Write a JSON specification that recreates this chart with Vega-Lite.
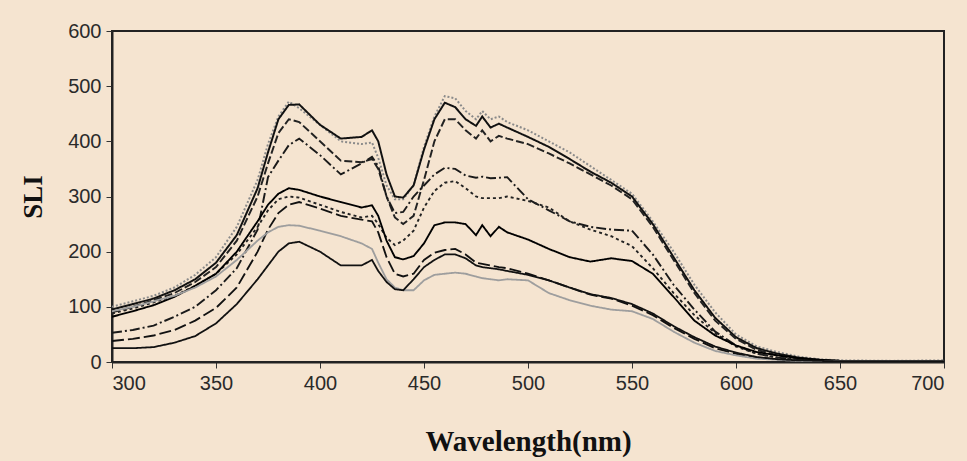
{
  "$schema": "https://vega.github.io/schema/vega-lite/v6.json",
  "width": 832,
  "height": 331,
  "autosize": {"type": "none"},
  "padding": {"left": 112, "top": 31, "right": 23, "bottom": 99},
  "background": "#f5e4d0",
  "config": {
    "view": {"stroke": "#222", "strokeWidth": 2},
    "axis": {
      "labelFont": "Liberation Sans", "labelFontSize": 20, "labelColor": "#2a2a2a",
      "tickColor": "#333", "tickSize": 6, "labelPadding": 5, "grid": false,
      "domainColor": "#222", "domainWidth": 2,
      "titleFont": "Liberation Serif", "titleFontWeight": "bold", "titleColor": "#111"
    }
  },
  "data": {"values": [
{"s":"A","w":300,"v":100},{"s":"A","w":310,"v":110},{"s":"A","w":320,"v":120},{"s":"A","w":330,"v":135},{"s":"A","w":340,"v":158},{"s":"A","w":350,"v":190},{"s":"A","w":360,"v":245},{"s":"A","w":370,"v":330},{"s":"A","w":375,"v":395},{"s":"A","w":380,"v":445},{"s":"A","w":385,"v":472},{"s":"A","w":390,"v":460},{"s":"A","w":400,"v":430},{"s":"A","w":410,"v":400},{"s":"A","w":420,"v":395},{"s":"A","w":425,"v":398},{"s":"A","w":428,"v":370},{"s":"A","w":432,"v":320},{"s":"A","w":436,"v":295},{"s":"A","w":440,"v":295},{"s":"A","w":445,"v":320},{"s":"A","w":450,"v":390},{"s":"A","w":455,"v":445},{"s":"A","w":460,"v":482},{"s":"A","w":465,"v":478},{"s":"A","w":470,"v":455},{"s":"A","w":475,"v":440},{"s":"A","w":478,"v":455},{"s":"A","w":482,"v":440},{"s":"A","w":486,"v":445},{"s":"A","w":490,"v":435},{"s":"A","w":500,"v":420},{"s":"A","w":510,"v":400},{"s":"A","w":520,"v":380},{"s":"A","w":530,"v":355},{"s":"A","w":540,"v":330},{"s":"A","w":550,"v":305},{"s":"A","w":560,"v":255},{"s":"A","w":570,"v":200},{"s":"A","w":580,"v":140},{"s":"A","w":590,"v":90},{"s":"A","w":600,"v":50},{"s":"A","w":610,"v":28},{"s":"A","w":620,"v":18},{"s":"A","w":630,"v":10},{"s":"A","w":640,"v":5},{"s":"A","w":650,"v":3},{"s":"A","w":675,"v":2},{"s":"A","w":700,"v":3},
{"s":"B","w":300,"v":95},{"s":"B","w":310,"v":105},{"s":"B","w":320,"v":115},{"s":"B","w":330,"v":130},{"s":"B","w":340,"v":150},{"s":"B","w":350,"v":180},{"s":"B","w":360,"v":230},{"s":"B","w":370,"v":315},{"s":"B","w":375,"v":380},{"s":"B","w":380,"v":440},{"s":"B","w":385,"v":466},{"s":"B","w":390,"v":467},{"s":"B","w":400,"v":430},{"s":"B","w":410,"v":405},{"s":"B","w":420,"v":408},{"s":"B","w":425,"v":420},{"s":"B","w":428,"v":400},{"s":"B","w":432,"v":340},{"s":"B","w":436,"v":300},{"s":"B","w":440,"v":298},{"s":"B","w":445,"v":320},{"s":"B","w":450,"v":385},{"s":"B","w":455,"v":440},{"s":"B","w":460,"v":470},{"s":"B","w":465,"v":462},{"s":"B","w":470,"v":440},{"s":"B","w":475,"v":428},{"s":"B","w":478,"v":445},{"s":"B","w":482,"v":425},{"s":"B","w":486,"v":432},{"s":"B","w":490,"v":425},{"s":"B","w":500,"v":408},{"s":"B","w":510,"v":390},{"s":"B","w":520,"v":368},{"s":"B","w":530,"v":345},{"s":"B","w":540,"v":325},{"s":"B","w":550,"v":300},{"s":"B","w":560,"v":250},{"s":"B","w":570,"v":190},{"s":"B","w":580,"v":130},{"s":"B","w":590,"v":80},{"s":"B","w":600,"v":45},{"s":"B","w":610,"v":25},{"s":"B","w":620,"v":15},{"s":"B","w":630,"v":8},{"s":"B","w":640,"v":4},{"s":"B","w":650,"v":2},{"s":"B","w":675,"v":1},{"s":"B","w":700,"v":2},
{"s":"C","w":300,"v":90},{"s":"C","w":310,"v":100},{"s":"C","w":320,"v":112},{"s":"C","w":330,"v":125},{"s":"C","w":340,"v":145},{"s":"C","w":350,"v":172},{"s":"C","w":360,"v":220},{"s":"C","w":370,"v":300},{"s":"C","w":375,"v":360},{"s":"C","w":380,"v":415},{"s":"C","w":385,"v":440},{"s":"C","w":390,"v":435},{"s":"C","w":400,"v":400},{"s":"C","w":410,"v":365},{"s":"C","w":420,"v":362},{"s":"C","w":425,"v":368},{"s":"C","w":428,"v":350},{"s":"C","w":432,"v":300},{"s":"C","w":436,"v":262},{"s":"C","w":440,"v":250},{"s":"C","w":445,"v":265},{"s":"C","w":450,"v":330},{"s":"C","w":455,"v":400},{"s":"C","w":460,"v":440},{"s":"C","w":465,"v":440},{"s":"C","w":470,"v":420},{"s":"C","w":475,"v":405},{"s":"C","w":478,"v":420},{"s":"C","w":482,"v":400},{"s":"C","w":486,"v":410},{"s":"C","w":490,"v":405},{"s":"C","w":500,"v":395},{"s":"C","w":510,"v":378},{"s":"C","w":520,"v":360},{"s":"C","w":530,"v":340},{"s":"C","w":540,"v":320},{"s":"C","w":550,"v":295},{"s":"C","w":560,"v":245},{"s":"C","w":570,"v":185},{"s":"C","w":580,"v":125},{"s":"C","w":590,"v":75},{"s":"C","w":600,"v":42},{"s":"C","w":610,"v":22},{"s":"C","w":620,"v":12},{"s":"C","w":630,"v":6},{"s":"C","w":640,"v":3},{"s":"C","w":650,"v":2},{"s":"C","w":675,"v":1},{"s":"C","w":700,"v":2},
{"s":"D","w":300,"v":53},{"s":"D","w":310,"v":58},{"s":"D","w":320,"v":66},{"s":"D","w":330,"v":82},{"s":"D","w":340,"v":100},{"s":"D","w":350,"v":130},{"s":"D","w":360,"v":170},{"s":"D","w":370,"v":240},{"s":"D","w":375,"v":335},{"s":"D","w":380,"v":365},{"s":"D","w":385,"v":393},{"s":"D","w":390,"v":405},{"s":"D","w":400,"v":375},{"s":"D","w":410,"v":340},{"s":"D","w":420,"v":360},{"s":"D","w":425,"v":372},{"s":"D","w":428,"v":355},{"s":"D","w":432,"v":300},{"s":"D","w":436,"v":270},{"s":"D","w":440,"v":272},{"s":"D","w":445,"v":300},{"s":"D","w":450,"v":320},{"s":"D","w":455,"v":340},{"s":"D","w":460,"v":352},{"s":"D","w":465,"v":350},{"s":"D","w":470,"v":338},{"s":"D","w":475,"v":334},{"s":"D","w":478,"v":336},{"s":"D","w":482,"v":333},{"s":"D","w":486,"v":334},{"s":"D","w":490,"v":335},{"s":"D","w":500,"v":295},{"s":"D","w":510,"v":275},{"s":"D","w":520,"v":255},{"s":"D","w":530,"v":245},{"s":"D","w":540,"v":240},{"s":"D","w":550,"v":238},{"s":"D","w":560,"v":195},{"s":"D","w":570,"v":140},{"s":"D","w":580,"v":95},{"s":"D","w":590,"v":55},{"s":"D","w":600,"v":30},{"s":"D","w":610,"v":15},{"s":"D","w":620,"v":8},{"s":"D","w":630,"v":4},{"s":"D","w":640,"v":2},{"s":"D","w":650,"v":1},{"s":"D","w":675,"v":1},{"s":"D","w":700,"v":1},
{"s":"E","w":300,"v":88},{"s":"E","w":310,"v":97},{"s":"E","w":320,"v":108},{"s":"E","w":330,"v":120},{"s":"E","w":340,"v":138},{"s":"E","w":350,"v":160},{"s":"E","w":360,"v":195},{"s":"E","w":370,"v":245},{"s":"E","w":375,"v":275},{"s":"E","w":380,"v":295},{"s":"E","w":385,"v":300},{"s":"E","w":390,"v":298},{"s":"E","w":400,"v":285},{"s":"E","w":410,"v":272},{"s":"E","w":420,"v":262},{"s":"E","w":425,"v":265},{"s":"E","w":428,"v":250},{"s":"E","w":432,"v":225},{"s":"E","w":436,"v":212},{"s":"E","w":440,"v":220},{"s":"E","w":445,"v":238},{"s":"E","w":450,"v":280},{"s":"E","w":455,"v":310},{"s":"E","w":460,"v":325},{"s":"E","w":465,"v":328},{"s":"E","w":470,"v":315},{"s":"E","w":475,"v":300},{"s":"E","w":478,"v":297},{"s":"E","w":482,"v":297},{"s":"E","w":486,"v":297},{"s":"E","w":490,"v":300},{"s":"E","w":500,"v":292},{"s":"E","w":510,"v":280},{"s":"E","w":520,"v":255},{"s":"E","w":530,"v":240},{"s":"E","w":540,"v":228},{"s":"E","w":550,"v":210},{"s":"E","w":560,"v":170},{"s":"E","w":570,"v":125},{"s":"E","w":580,"v":85},{"s":"E","w":590,"v":52},{"s":"E","w":600,"v":28},{"s":"E","w":610,"v":15},{"s":"E","w":620,"v":8},{"s":"E","w":630,"v":4},{"s":"E","w":640,"v":2},{"s":"E","w":650,"v":1},{"s":"E","w":675,"v":1},{"s":"E","w":700,"v":1},
{"s":"F","w":300,"v":82},{"s":"F","w":310,"v":92},{"s":"F","w":320,"v":103},{"s":"F","w":330,"v":118},{"s":"F","w":340,"v":138},{"s":"F","w":350,"v":160},{"s":"F","w":360,"v":200},{"s":"F","w":370,"v":255},{"s":"F","w":375,"v":285},{"s":"F","w":380,"v":305},{"s":"F","w":385,"v":315},{"s":"F","w":390,"v":312},{"s":"F","w":400,"v":300},{"s":"F","w":410,"v":290},{"s":"F","w":420,"v":280},{"s":"F","w":425,"v":284},{"s":"F","w":428,"v":265},{"s":"F","w":432,"v":220},{"s":"F","w":436,"v":190},{"s":"F","w":440,"v":186},{"s":"F","w":445,"v":192},{"s":"F","w":450,"v":215},{"s":"F","w":455,"v":248},{"s":"F","w":460,"v":253},{"s":"F","w":465,"v":253},{"s":"F","w":470,"v":250},{"s":"F","w":475,"v":230},{"s":"F","w":478,"v":248},{"s":"F","w":482,"v":228},{"s":"F","w":486,"v":245},{"s":"F","w":490,"v":235},{"s":"F","w":500,"v":222},{"s":"F","w":510,"v":205},{"s":"F","w":520,"v":190},{"s":"F","w":530,"v":182},{"s":"F","w":540,"v":188},{"s":"F","w":550,"v":183},{"s":"F","w":560,"v":160},{"s":"F","w":570,"v":118},{"s":"F","w":580,"v":75},{"s":"F","w":590,"v":48},{"s":"F","w":600,"v":30},{"s":"F","w":610,"v":18},{"s":"F","w":620,"v":12},{"s":"F","w":630,"v":7},{"s":"F","w":640,"v":4},{"s":"F","w":650,"v":2},{"s":"F","w":675,"v":1},{"s":"F","w":700,"v":1},
{"s":"G","w":300,"v":38},{"s":"G","w":310,"v":42},{"s":"G","w":320,"v":48},{"s":"G","w":330,"v":58},{"s":"G","w":340,"v":75},{"s":"G","w":350,"v":98},{"s":"G","w":360,"v":135},{"s":"G","w":370,"v":200},{"s":"G","w":375,"v":240},{"s":"G","w":380,"v":270},{"s":"G","w":385,"v":285},{"s":"G","w":390,"v":290},{"s":"G","w":400,"v":278},{"s":"G","w":410,"v":265},{"s":"G","w":420,"v":258},{"s":"G","w":425,"v":255},{"s":"G","w":428,"v":235},{"s":"G","w":432,"v":190},{"s":"G","w":436,"v":160},{"s":"G","w":440,"v":155},{"s":"G","w":445,"v":160},{"s":"G","w":450,"v":185},{"s":"G","w":455,"v":198},{"s":"G","w":460,"v":203},{"s":"G","w":465,"v":205},{"s":"G","w":470,"v":195},{"s":"G","w":475,"v":180},{"s":"G","w":478,"v":178},{"s":"G","w":482,"v":175},{"s":"G","w":486,"v":172},{"s":"G","w":490,"v":170},{"s":"G","w":500,"v":160},{"s":"G","w":510,"v":148},{"s":"G","w":520,"v":135},{"s":"G","w":530,"v":122},{"s":"G","w":540,"v":115},{"s":"G","w":550,"v":102},{"s":"G","w":560,"v":85},{"s":"G","w":570,"v":62},{"s":"G","w":580,"v":42},{"s":"G","w":590,"v":25},{"s":"G","w":600,"v":15},{"s":"G","w":610,"v":8},{"s":"G","w":620,"v":5},{"s":"G","w":630,"v":3},{"s":"G","w":640,"v":2},{"s":"G","w":650,"v":1},{"s":"G","w":675,"v":1},{"s":"G","w":700,"v":1},
{"s":"H","w":300,"v":92},{"s":"H","w":310,"v":100},{"s":"H","w":320,"v":110},{"s":"H","w":330,"v":120},{"s":"H","w":340,"v":135},{"s":"H","w":350,"v":155},{"s":"H","w":360,"v":185},{"s":"H","w":370,"v":220},{"s":"H","w":375,"v":235},{"s":"H","w":380,"v":245},{"s":"H","w":385,"v":248},{"s":"H","w":390,"v":247},{"s":"H","w":400,"v":238},{"s":"H","w":410,"v":228},{"s":"H","w":420,"v":215},{"s":"H","w":425,"v":205},{"s":"H","w":428,"v":180},{"s":"H","w":432,"v":150},{"s":"H","w":436,"v":135},{"s":"H","w":440,"v":130},{"s":"H","w":445,"v":130},{"s":"H","w":450,"v":148},{"s":"H","w":455,"v":158},{"s":"H","w":460,"v":160},{"s":"H","w":465,"v":162},{"s":"H","w":470,"v":160},{"s":"H","w":475,"v":155},{"s":"H","w":478,"v":152},{"s":"H","w":482,"v":150},{"s":"H","w":486,"v":148},{"s":"H","w":490,"v":150},{"s":"H","w":500,"v":148},{"s":"H","w":510,"v":125},{"s":"H","w":520,"v":112},{"s":"H","w":530,"v":102},{"s":"H","w":540,"v":95},{"s":"H","w":550,"v":92},{"s":"H","w":560,"v":78},{"s":"H","w":570,"v":55},{"s":"H","w":580,"v":35},{"s":"H","w":590,"v":20},{"s":"H","w":600,"v":12},{"s":"H","w":610,"v":6},{"s":"H","w":620,"v":4},{"s":"H","w":630,"v":2},{"s":"H","w":640,"v":1},{"s":"H","w":650,"v":1},{"s":"H","w":675,"v":1},{"s":"H","w":700,"v":1},
{"s":"I","w":300,"v":25},{"s":"I","w":310,"v":25},{"s":"I","w":320,"v":27},{"s":"I","w":330,"v":35},{"s":"I","w":340,"v":47},{"s":"I","w":350,"v":70},{"s":"I","w":360,"v":105},{"s":"I","w":370,"v":150},{"s":"I","w":375,"v":175},{"s":"I","w":380,"v":200},{"s":"I","w":385,"v":215},{"s":"I","w":390,"v":218},{"s":"I","w":400,"v":200},{"s":"I","w":410,"v":175},{"s":"I","w":420,"v":175},{"s":"I","w":425,"v":185},{"s":"I","w":428,"v":165},{"s":"I","w":432,"v":145},{"s":"I","w":436,"v":132},{"s":"I","w":440,"v":130},{"s":"I","w":445,"v":150},{"s":"I","w":450,"v":172},{"s":"I","w":455,"v":185},{"s":"I","w":460,"v":195},{"s":"I","w":465,"v":195},{"s":"I","w":470,"v":188},{"s":"I","w":475,"v":175},{"s":"I","w":478,"v":172},{"s":"I","w":482,"v":170},{"s":"I","w":486,"v":168},{"s":"I","w":490,"v":165},{"s":"I","w":500,"v":158},{"s":"I","w":510,"v":148},{"s":"I","w":520,"v":135},{"s":"I","w":530,"v":123},{"s":"I","w":540,"v":116},{"s":"I","w":550,"v":105},{"s":"I","w":560,"v":88},{"s":"I","w":570,"v":65},{"s":"I","w":580,"v":45},{"s":"I","w":590,"v":28},{"s":"I","w":600,"v":17},{"s":"I","w":610,"v":9},{"s":"I","w":620,"v":5},{"s":"I","w":630,"v":3},{"s":"I","w":640,"v":2},{"s":"I","w":650,"v":1},{"s":"I","w":675,"v":1},{"s":"I","w":700,"v":1}
  ]},
  "mark": {"type": "line", "clip": true},
  "encoding": {
    "x": {"field": "w", "type": "quantitative", "scale": {"domain": [300, 700], "nice": false},
      "axis": {"values": [300, 350, 400, 450, 500, 550, 600, 650, 700], "title": "Wavelength(nm)", "titleFontSize": 29, "titlePadding": 34}},
    "y": {"field": "v", "type": "quantitative", "scale": {"domain": [0, 600], "nice": false},
      "axis": {"values": [0, 100, 200, 300, 400, 500, 600], "title": "SLI", "titleFontSize": 27, "titlePadding": 20}},
    "color": {"field": "s", "type": "nominal", "legend": null,
      "scale": {"domain": ["A","B","C","D","E","F","G","H","I"],
        "range": ["#8a8a8a","#111111","#222222","#1a1a1a","#222222","#000000","#111111","#9e9e9e","#111111"]}},
    "strokeDash": {"field": "s", "type": "nominal", "legend": null,
      "scale": {"domain": ["A","B","C","D","E","F","G","H","I"],
        "range": [[2,2],[1,0],[8,3],[10,3,2,3],[3,3],[1,0],[12,4],[1,0],[1,0]]}},
    "strokeWidth": {"field": "s", "type": "nominal", "legend": null,
      "scale": {"domain": ["A","B","C","D","E","F","G","H","I"],
        "range": [2,1.8,1.8,1.8,2,3.2,2,1.7,1.8]}},
    "order": {"field": "w", "type": "quantitative"}
  }
}
